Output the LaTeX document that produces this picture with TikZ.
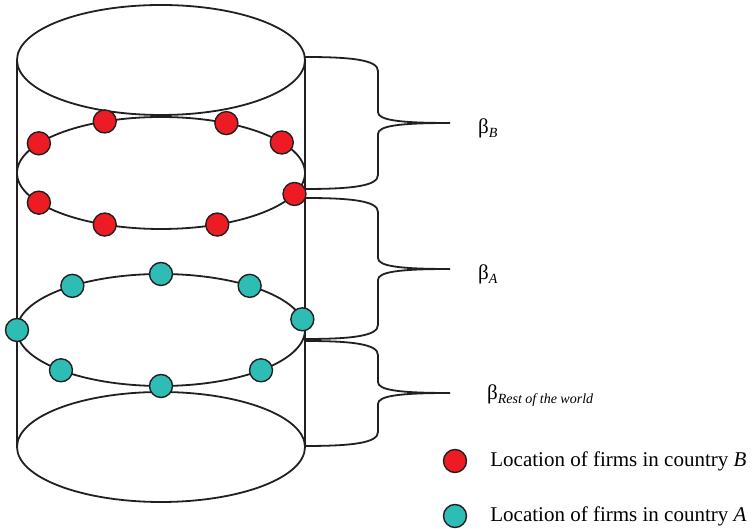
\documentclass[tikz,border=0pt]{standalone}
\usepackage{fontspec}
\setmainfont{Liberation Serif}
\usetikzlibrary{positioning}
\usetikzlibrary{calc}
\definecolor{firmred}{RGB}{237,28,36}
\definecolor{firmteal}{RGB}{46,189,181}
\definecolor{ink}{RGB}{35,31,32}
\tikzstyle{ring}=[draw=ink,line width=1.8pt]
\tikzstyle{firm}=[circle,draw=ink,line width=1.4pt,minimum size=23pt,inner sep=0pt]
\tikzstyle{firmb}=[firm,fill=firmred]
\tikzstyle{firma}=[firm,fill=firmteal]
\tikzstyle{lbl}=[anchor=base west,inner sep=0pt,font=\fontsize{21}{25}\selectfont]
\newcommand{\betasub}[1]{\raisebox{-4pt}{\fontsize{14}{14}\selectfont\itshape #1}}
% curly bracket from the cylinder wall to a label
\newcommand{\curlybr}[3]{%
  \draw [ring] (305,#1) .. controls (352,#1) and (378,#1-3) .. (378,#1-14)
    -- (378,#2+11) .. controls (378,#2+3) and (398,#2) .. (450,#2)
    .. controls (398,#2) and (378,#2-3) .. (378,#2-11)
    -- (378,#3+14) .. controls (378,#3+3) and (352,#3) .. (305,#3);}

\begin{document}
\begin{tikzpicture}[x=1pt,y=1pt,node distance=23pt]
  \useasboundingbox (0,0) rectangle (753,529);
  \coordinate (top) at (161,469);
  \coordinate (bot) at (161,82);
  \coordinate (midb) at (161,356);
  \coordinate (mida) at (161,199);

  \draw [ring] (17,469) -- (17,82);
  \draw [ring] (305,469) -- (305,82);
  \draw [ring] (top) ellipse (144 and 55);
  \draw [ring] (bot) ellipse (144 and 55);
  \draw [ring] (midb) ellipse (144 and 56);
  \draw [ring] (mida) ellipse (144 and 56);

  \curlybr{472}{406}{340}
  \curlybr{331}{260}{190}
  \curlybr{188}{136}{83}

  \foreach \a [count=\i] in {113,63,33,148,338,212,247,293}
    \node [firmb] (b\i) at ($(midb)+(\a:144 and 56)$) {};
  \foreach \a [count=\i] in {90,128,52,11,180,226,314,270}
    \node [firma] (a\i) at ($(mida)+(\a:144 and 56)$) {};

  \node [lbl] (betab) at (478,395) {β\betasub{B}};
  \node [lbl] (betaa) at (478,249) {β\betasub{A}};
  \node [lbl] (betar) at (487,129) {β\betasub{Rest of the world}};

  \node [firmb] (keyb) at (455,68) {};
  \node [firma] (keya) at (455,13) {};
  \node [lbl,anchor=west] (keybtxt) [right=23pt of keyb] {Location of firms in country \textit{B}};
  \node [lbl,anchor=west] (keyatxt) [right=23pt of keya] {Location of firms in country \textit{A}};
\end{tikzpicture}
\end{document}
